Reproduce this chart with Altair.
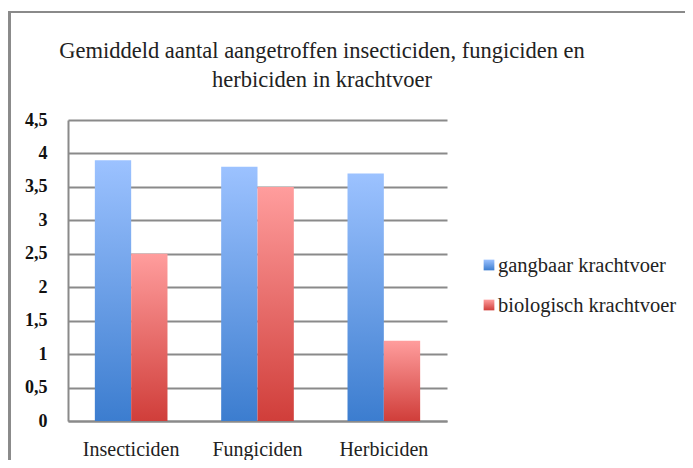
import altair as alt
import pandas as pd

categories = ["Insecticiden", "Fungiciden", "Herbiciden"]
series = ["gangbaar krachtvoer", "biologisch krachtvoer"]
gangbaar = [3.9, 3.8, 3.7]
biologisch = [2.5, 3.5, 1.2]
y_ticks = [0, 0.5, 1, 1.5, 2, 2.5, 3, 3.5, 4, 4.5]
title_lines = ["Gemiddeld aantal aangetroffen insecticiden, fungiciden en",
               "herbiciden in krachtvoer"]
legend_colors = ["#5A93E3", "#E05A57"]

rows = []
for c, g, b in zip(categories, gangbaar, biologisch):
    rows.append({"cat": c, "series": series[0], "value": g})
    rows.append({"cat": c, "series": series[1], "value": b})
df = pd.DataFrame(rows)

FONT = "Liberation Serif"
GRAY = "#8a8a8a"
W, H = 379, 301

x_enc = alt.X("cat:N", sort=categories, title=None,
              scale=alt.Scale(paddingInner=0.425, paddingOuter=0.2125),
              axis=alt.Axis(labelAngle=0, labelFont=FONT, labelFontSize=20,
                            labelColor="#222", ticks=False, domain=True,
                            domainColor=GRAY, domainWidth=2, labelPadding=18))
xo_enc = alt.XOffset("series:N", sort=series,
                     scale=alt.Scale(paddingInner=0, paddingOuter=0))
y_enc = alt.Y("value:Q", title=None,
              scale=alt.Scale(domain=[0, 4.5], nice=False),
              axis=alt.Axis(values=y_ticks, grid=True, gridColor=GRAY, gridWidth=2,
                            ticks=False, domain=True, domainColor=GRAY, domainWidth=2,
                            labelFont=FONT, labelFontSize=18, labelFontWeight="bold",
                            labelColor="#111", labelPadding=21,
                            labelExpr="replace(format(datum.value, '.1~f'), '.', ',')"))

def grad(top, bottom):
    return alt.Gradient(gradient="linear",
                        stops=[alt.GradientStop(color=top, offset=0),
                               alt.GradientStop(color=bottom, offset=1)],
                        x1=0, x2=0, y1=0, y2=1)

blue_layer = alt.Chart(df).transform_filter(
    alt.datum.series == series[0]).mark_bar(fill=grad("#9CC2FF", "#3C7DCF")).encode(
    x=x_enc, xOffset=xo_enc, y=y_enc)
red_layer = alt.Chart(df).transform_filter(
    alt.datum.series == series[1]).mark_bar(fill=grad("#FF9D9D", "#D03E3A")).encode(
    x=x_enc, xOffset=xo_enc, y=y_enc)

border_left = alt.Chart(df).mark_rule(color=GRAY, strokeWidth=2).encode(
    x=alt.value(-58.5), y=alt.value(-108), y2=alt.value(350))
border_top = alt.Chart(df).mark_rule(color=GRAY, strokeWidth=2).encode(
    x=alt.value(-59.5), x2=alt.value(630), y=alt.value(-108))

def text_layer(txt, x, y, size, align):
    return alt.Chart(pd.DataFrame({"t": [txt]})).mark_text(
        font=FONT, fontSize=size, color="#222", align=align,
        baseline="alphabetic").encode(text="t:N", x=alt.value(x), y=alt.value(y))

title1 = text_layer(title_lines[0], 254, -62, 22.5, "center")
title2 = text_layer(title_lines[1], 254, -33, 22.5, "center")

legend_layers = []
for i, (s, col) in enumerate(zip(series, legend_colors)):
    sq = alt.Chart(pd.DataFrame({"s": [s]})).mark_square(
        size=115, color=col, opacity=1,
        fill=grad("#9CC2FF", "#3C7DCF") if i == 0 else grad("#FF9D9D", "#D03E3A")).encode(
        x=alt.value(421), y=alt.value(145 + 40 * i))
    legend_layers.append(sq)
    legend_layers.append(text_layer(s, 430, 152 + 40 * i, 20.5, "left"))

chart = alt.layer(blue_layer, red_layer, border_left, border_top,
                  title1, title2, *legend_layers).properties(
    width=W, height=H,
    autosize=alt.AutoSizeParams(type="none"),
    padding={"left": 60, "top": 112, "right": 238, "bottom": 39},
).configure(background="white").configure_view(stroke=None)

chart.save("out.html", embed_options={"renderer": "svg", "actions": False})
